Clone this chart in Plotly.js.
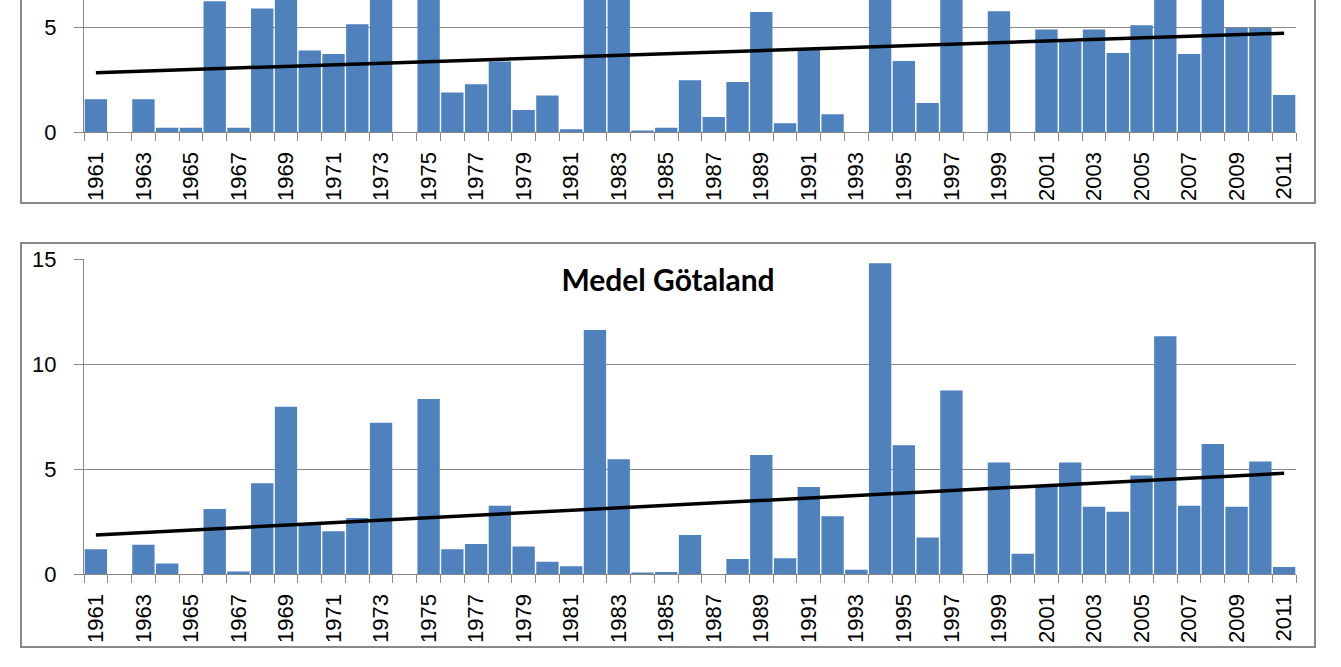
<!DOCTYPE html>
<html>
<head>
<meta charset="utf-8">
<script src="https://cdn.plot.ly/plotly-3.0.1.min.js"></script>
<style>
  html, body { margin: 0; padding: 0; background: #ffffff; overflow: hidden; }
  #chart { width: 1341px; height: 667px; }
</style>
</head>
<body>
<div id="chart"></div>
<script>
// ---- Data ----
const years = ["1961","1962","1963","1964","1965","1966","1967","1968","1969","1970",
  "1971","1972","1973","1974","1975","1976","1977","1978","1979","1980",
  "1981","1982","1983","1984","1985","1986","1987","1988","1989","1990",
  "1991","1992","1993","1994","1995","1996","1997","1998","1999","2000",
  "2001","2002","2003","2004","2005","2006","2007","2008","2009","2010","2011"];

const tickLabels = ["1961","","1963","","1965","","1967","","1969","",
  "1971","","1973","","1975","","1977","","1979","",
  "1981","","1983","","1985","","1987","","1989","",
  "1991","","1993","","1995","","1997","","1999","",
  "2001","","2003","","2005","","2007","","2009","","2011"];

// Upper chart (only lower part visible in the reference; tall bars are cut off)
const upperValues = [1.57, 0, 1.57, 0.22, 0.22, 6.24, 0.22, 5.89, 9.0, 3.90,
  3.73, 5.14, 8.0, 0, 9.5, 1.90, 2.29, 3.37, 1.06, 1.75,
  0.14, 10.0, 7.0, 0.08, 0.22, 2.48, 0.73, 2.40, 5.73, 0.43,
  3.95, 0.86, 0, 12.0, 3.40, 1.40, 8.0, 0, 5.76, 0,
  4.90, 4.30, 4.90, 3.78, 5.10, 10.0, 3.73, 7.0, 4.98, 4.98, 1.78];

// Lower chart: Medel Götaland
const gotalandValues = [1.19, 0, 1.41, 0.52, 0, 3.11, 0.13, 4.33, 7.98, 2.40,
  2.05, 2.68, 7.22, 0, 8.35, 1.19, 1.44, 3.27, 1.32, 0.60,
  0.38, 11.63, 5.48, 0.08, 0.11, 1.87, 0, 0.73, 5.68, 0.76,
  4.16, 2.76, 0.22, 14.81, 6.14, 1.75, 8.75, 0, 5.32, 0.98,
  4.20, 5.32, 3.22, 2.98, 4.71, 11.33, 3.27, 6.21, 3.22, 5.37, 0.35];

// Linear trend lines (end points)
const trendYears = ["1961", "2011"];
const upperTrend = [2.84, 4.72];
const gotalandTrend = [1.87, 4.81];

const chartTitle = "Medel Götaland";

// ---- Styles ----
const barColor = "#4f81bd";
const axisGray = "#888888";
const tickFont = { family: "Liberation Sans, Arial, sans-serif", size: 22, color: "#000000" };

const traces = [
  { type: "bar", x: years, y: upperValues, xaxis: "x", yaxis: "y",
    marker: { color: barColor, line: { color: "#ffffff", width: 0 } }, hoverinfo: "x+y" },
  { type: "scatter", mode: "lines", x: trendYears, y: upperTrend, xaxis: "x", yaxis: "y",
    line: { color: "#000000", width: 3.5 }, hoverinfo: "skip" },
  { type: "bar", x: years, y: gotalandValues, xaxis: "x2", yaxis: "y2",
    marker: { color: barColor, line: { color: "#ffffff", width: 0 } }, hoverinfo: "x+y" },
  { type: "scatter", mode: "lines", x: trendYears, y: gotalandTrend, xaxis: "x2", yaxis: "y2",
    line: { color: "#000000", width: 3.5 }, hoverinfo: "skip" }
];

const W = 1341, H = 667;
const px = v => v / W;          // horizontal pixel -> paper
const py = v => (H - v) / H;    // vertical pixel (from top) -> paper

const xDomain = [px(84), px(1296)];

function xAxis(anchor) {
  return {
    type: "category", domain: xDomain, anchor: anchor,
    range: [-0.5, years.length - 0.5],
    tickson: "boundaries", ticks: "outside", ticklen: 8, tickcolor: axisGray, tickwidth: 1,
    tickvals: years, ticktext: tickLabels, tickangle: -90,
    tickfont: tickFont, ticklabelstandoff: 10,
    showline: true, linecolor: axisGray, linewidth: 1,
    showgrid: false, zeroline: false, fixedrange: true
  };
}
function yAxis(anchor, domain, range) {
  return {
    domain: domain, anchor: anchor, range: range,
    tickmode: "linear", tick0: 0, dtick: 5,
    ticks: "outside", ticklen: 9, tickcolor: axisGray, tickwidth: 1,
    tickfont: tickFont, ticklabelstandoff: 13,
    showline: true, linecolor: axisGray, linewidth: 1,
    showgrid: true, gridcolor: axisGray, gridwidth: 1,
    zeroline: false, fixedrange: true
  };
}

const layout = {
  width: W, height: H, autosize: false,
  margin: { l: 0, r: 0, t: 0, b: 0, pad: 0 },
  paper_bgcolor: "#ffffff", plot_bgcolor: "rgba(0,0,0,0)",
  showlegend: false, bargap: 0.06,
  title: {
    text: "<b>" + chartTitle + "</b>",
    font: { family: "Lato, Liberation Sans, sans-serif", size: 30, color: "#000000" },
    xref: "paper", yref: "paper", x: px(668), y: py(280),
    xanchor: "center", yanchor: "middle"
  },
  xaxis: xAxis("y"),
  yaxis: yAxis("x", [py(132.3), 1], [0, 132.3 / 21]),
  xaxis2: xAxis("y2"),
  yaxis2: yAxis("x2", [py(574.3), py(259.3)], [0, 15]),
  shapes: [
    // upper chart frame (top edge outside view)
    { type: "rect", xref: "paper", yref: "paper", x0: px(21), x1: px(1315), y0: py(203), y1: 1.2,
      line: { color: axisGray, width: 2 }, fillcolor: "rgba(0,0,0,0)", layer: "below" },
    // lower chart frame
    { type: "rect", xref: "paper", yref: "paper", x0: px(21), x1: px(1315), y0: py(647), y1: py(243),
      line: { color: axisGray, width: 2 }, fillcolor: "rgba(0,0,0,0)", layer: "below" }
  ]
};

Plotly.newPlot("chart", traces, layout, { displayModeBar: false, staticPlot: true });
</script>
</body>
</html>
